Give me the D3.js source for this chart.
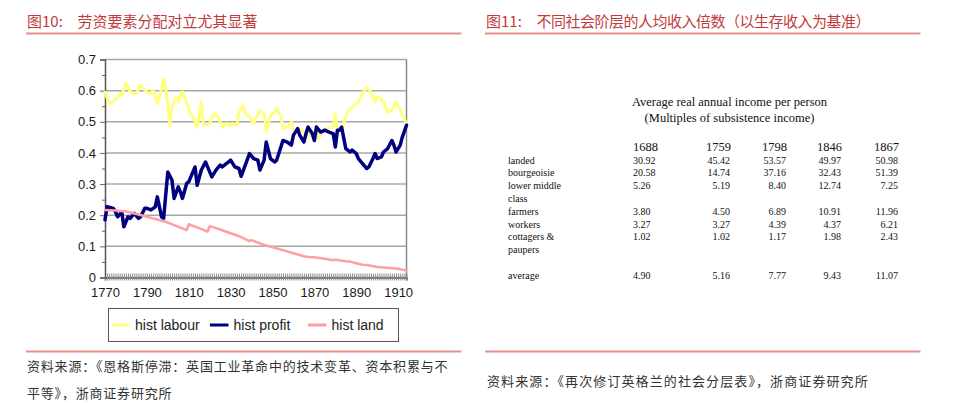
<!DOCTYPE html>
<html>
<head>
<meta charset="utf-8">
<script src="https://cdn.jsdelivr.net/npm/d3@7"></script>
<style>
  body { margin: 0; background: #fff; }
  svg { display: block; }
</style>
</head>
<body>
<svg id="chart" width="960" height="403"></svg>
<script>
// ---- data ----
const labour = [
  [1770,.595],[1772,.558],[1774,.565],[1776,.578],[1777,.59],[1778,.585],[1780,.624],[1782,.597],
  [1784,.59],[1785,.593],[1787,.617],[1789,.603],[1791,.59],[1793,.6],[1794,.585],[1795,.558],
  [1797,.605],[1798,.638],[1799,.61],[1801,.489],[1802,.547],[1804,.58],[1805,.564],[1807,.596],
  [1809,.56],[1811,.526],[1812,.516],[1814,.483],[1816,.564],[1817,.49],[1820,.494],[1822,.526],
  [1824,.516],[1826,.483],[1828,.494],[1830,.486],[1831,.494],[1833,.489],[1834,.531],[1836,.553],
  [1837,.526],[1839,.516],[1841,.494],[1842,.51],[1844,.537],[1846,.526],[1847,.467],[1849,.52],
  [1851,.531],[1852,.542],[1854,.516],[1855,.478],[1857,.483],[1859,.5],[1860,.478],[1862,.467],
  [1863,.478],[1865,.467],[1867,.451],[1869,.472],[1871,.467],[1872,.446],[1874,.472],[1876,.478],
  [1879,.483],[1880,.526],[1881,.472],[1883,.478],[1884,.494],[1886,.537],[1888,.547],[1890,.558],
  [1891,.563],[1893,.59],[1895,.611],[1897,.595],[1899,.563],[1900,.58],[1902,.574],[1903,.563],
  [1905,.531],[1907,.537],[1909,.563],[1911,.542],[1912,.52],[1914,.495]
];
const profit = [
  [1770,.185],[1771,.227],[1774,.222],[1775,.211],[1776,.195],[1778,.211],[1779,.163],[1781,.195],
  [1782,.19],[1784,.206],[1786,.19],[1787,.195],[1789,.222],[1790,.222],[1792,.217],[1794,.227],
  [1795,.259],[1797,.195],[1798,.19],[1800,.339],[1802,.312],[1803,.254],[1805,.291],[1806,.275],
  [1807,.254],[1809,.302],[1810,.307],[1813,.355],[1814,.296],[1816,.345],[1818,.371],[1819,.355],
  [1821,.323],[1823,.345],[1825,.361],[1826,.355],[1829,.371],[1830,.377],[1832,.355],[1834,.35],
  [1835,.325],[1837,.361],[1839,.398],[1841,.382],[1843,.377],[1844,.345],[1845,.361],[1846,.377],
  [1847,.435],[1849,.382],[1851,.371],[1852,.377],[1854,.419],[1855,.44],[1857,.435],[1859,.425],
  [1860,.457],[1862,.478],[1863,.457],[1865,.435],[1866,.462],[1867,.483],[1869,.462],[1870,.44],
  [1871,.483],[1873,.467],[1875,.473],[1877,.467],[1879,.462],[1880,.419],[1881,.473],[1882,.473],
  [1883,.483],[1885,.414],[1887,.403],[1888,.409],[1890,.398],[1891,.382],[1893,.366],[1895,.35],
  [1896,.355],[1898,.382],[1899,.398],[1900,.382],[1902,.387],[1903,.403],[1905,.414],[1907,.44],
  [1908,.425],[1909,.403],[1911,.425],[1912,.451],[1914,.489]
];
const land = [
  [1770,.217],[1775,.215],[1780,.212],[1785,.204],[1790,.195],[1795,.186],[1799,.179],[1803,.168],
  [1806,.16],[1809,.152],[1810,.171],[1814,.161],[1817,.153],[1819,.147],[1820,.165],[1825,.154],
  [1830,.142],[1835,.13],[1839,.117],[1840,.12],[1845,.107],[1850,.097],[1855,.088],[1860,.078],
  [1865,.068],[1867,.066],[1870,.065],[1875,.06],[1878,.056],[1880,.057],[1885,.052],[1887,.051],
  [1890,.046],[1893,.041],[1895,.04],[1900,.034],[1905,.031],[1910,.028],[1914,.022]
];
const seriesNames = ["hist labour", "hist profit", "hist land"];
const seriesColors = ["#ffff80", "#000080", "#ff9f9f"];
const xTickYears = [1770, 1790, 1810, 1830, 1850, 1870, 1890, 1910];
const yTickValues = [0, 0.1, 0.2, 0.3, 0.4, 0.5, 0.6, 0.7];

// table (figure 11)
const tableTitle = ["Average real annual income per person", "(Multiples of subsistence income)"];
const tableYears = ["1688", "1759", "1798", "1846", "1867"];
const classLabels = [["landed"], ["bourgeoisie"], ["lower middle", "class"], ["farmers"], ["workers"], ["cottagers &", "paupers"], ["average"]];
const incomes = [
  [30.92, 45.42, 53.57, 49.97, 50.98],
  [20.58, 14.74, 37.16, 32.43, 51.39],
  [5.26, 5.19, 8.40, 12.74, 7.25],
  [3.80, 4.50, 6.89, 10.91, 11.96],
  [3.27, 3.27, 4.39, 4.37, 6.21],
  [1.02, 1.02, 1.17, 1.98, 2.43],
  [4.90, 5.16, 7.77, 9.43, 11.07]
];

const titles = [["图10:", "劳资要素分配对立尤其显著"], ["图11:", "不同社会阶层的人均收入倍数（以生存收入为基准）"]];
const sources = [
  ["资料来源：《恩格斯停滞：英国工业革命中的技术变革、资本积累与不", "平等》，浙商证券研究所"],
  ["资料来源：《再次修订英格兰的社会分层表》，浙商证券研究所"]
];

// ---- drawing ----
const svg = d3.select("#chart");
svg.append("rect").attr("width", 960).attr("height", 403).attr("fill", "#fff");

const cjk = "'Noto Sans CJK SC', sans-serif";
const red = "#c23b3b";
const ruleColor = "#e39090";

// panel headers and footers
const panelX = [26, 485];
const titleSpacing = ["0px", "-0.5px"];
titles.forEach((t, i) => {
  svg.append("text").attr("x", panelX[i] + 1).attr("y", 20)
    .attr("dominant-baseline", "central")
    .style("font-family", cjk).style("font-size", "15px").attr("fill", red)
    .text(t[0]);
  svg.append("text").attr("x", panelX[i] + 51.5).attr("y", 20)
    .attr("dominant-baseline", "central")
    .style("font-family", cjk).style("font-size", "15px").style("letter-spacing", titleSpacing[i])
    .attr("fill", red)
    .text(t[1]);
  svg.append("line").attr("x1", panelX[i]).attr("x2", panelX[i] + 435.5)
    .attr("y1", 33.5).attr("y2", 33.5).attr("stroke", ruleColor).attr("stroke-width", 2);
  svg.append("line").attr("x1", panelX[i]).attr("x2", panelX[i] + 435.5)
    .attr("y1", 351.5).attr("y2", 351.5).attr("stroke", ruleColor).attr("stroke-width", 2);
});

sources[0].forEach((s, j) => {
  svg.append("text").attr("x", 27).attr("y", 365 + j * 27.5)
    .attr("dominant-baseline", "central")
    .style("font-family", cjk).style("font-size", "13px").style("letter-spacing", "0.8px")
    .attr("fill", "#333").text(s);
});
svg.append("text").attr("x", 487).attr("y", 380)
  .attr("dominant-baseline", "central")
  .style("font-family", cjk).style("font-size", "13px").style("letter-spacing", "1.1px")
  .attr("fill", "#333").text(sources[1][0]);

// ---- figure 10: line chart ----
const x = d3.scaleLinear().domain([1770, 1914]).range([105, 406.5]);
const y = d3.scaleLinear().domain([0, 0.7]).range([277.5, 59.5]);
const g = svg.append("g");

// grid
g.selectAll("line.grid")
  .data(yTickValues)
  .enter().append("line")
  .attr("class", "grid")
  .attr("x1", x.range()[0]).attr("x2", x.range()[1])
  .attr("y1", d => y(d)).attr("y2", d => y(d))
  .attr("stroke", "#a8a8a8").attr("stroke-width", 1.5);

// right frame
g.append("line").attr("x1", x.range()[1]).attr("x2", x.range()[1])
  .attr("y1", y(0.7)).attr("y2", y(0))
  .attr("stroke", "#8a8a8a").attr("stroke-width", 1.5);

// yearly tick marks on the x axis
const xMinor = g.append("g")
  .attr("transform", `translate(0,${y(0)})`)
  .call(d3.axisBottom(x).tickValues(d3.range(1770, 1915)).tickSize(3).tickFormat(""));
xMinor.select(".domain").attr("stroke", "#555").attr("stroke-width", 1.5);
xMinor.selectAll(".tick line").attr("y1", -4).attr("y2", 3).attr("stroke", "#8c8c8c");

const xAxis = g.append("g")
  .attr("transform", `translate(0,${y(0)})`)
  .call(d3.axisBottom(x).tickValues(xTickYears).tickSize(0).tickPadding(10).tickFormat(d3.format("d")));
xAxis.select(".domain").remove();
xAxis.selectAll("text").style("font-family", "'Liberation Sans', Arial, sans-serif")
  .style("font-size", "13px").attr("fill", "#1a1a1a");

// y axis with minor ticks
const yMinor = g.append("g")
  .attr("transform", `translate(${x.range()[0]},0)`)
  .call(d3.axisLeft(y).tickValues(d3.range(0.05, 0.7, 0.1)).tickSize(3).tickFormat(""));
yMinor.select(".domain").remove();
yMinor.selectAll(".tick line").attr("stroke", "#666");

const yAxis = g.append("g")
  .attr("transform", `translate(${x.range()[0]},0)`)
  .call(d3.axisLeft(y).tickValues(yTickValues).tickSize(5).tickPadding(4)
    .tickFormat(d => d === 0 ? "0" : d3.format(".1f")(d)));
yAxis.select(".domain").attr("stroke", "#555").attr("stroke-width", 1.5);
yAxis.selectAll(".tick line").attr("stroke", "#666");
yAxis.selectAll("text").style("font-family", "'Liberation Sans', Arial, sans-serif")
  .style("font-size", "13px").attr("fill", "#1a1a1a");

// series lines
const line = d3.line().x(d => x(d[0])).y(d => y(d[1]));
const widths = [3, 3.5, 2.5];
[labour, profit, land].forEach((data, i) => {
  g.append("path")
    .datum(data)
    .attr("fill", "none")
    .attr("stroke", seriesColors[i])
    .attr("stroke-width", widths[i])
    .attr("stroke-linejoin", "round")
    .attr("stroke-linecap", "round")
    .attr("d", line);
});

// legend
const legend = g.append("g");
legend.append("rect").attr("x", 108.5).attr("y", 308.5).attr("width", 290).attr("height", 33)
  .attr("fill", "#fff").attr("stroke", "#555").attr("stroke-width", 1);
const legendX = [111.5, 210, 308];
seriesNames.forEach((name, i) => {
  legend.append("line")
    .attr("x1", legendX[i]).attr("x2", legendX[i] + 18.5)
    .attr("y1", 325).attr("y2", 325)
    .attr("stroke", seriesColors[i]).attr("stroke-width", 3);
  legend.append("text")
    .attr("x", legendX[i] + 23.5).attr("y", 325)
    .attr("dominant-baseline", "central")
    .style("font-family", "'Liberation Sans', Arial, sans-serif").style("font-size", "14px")
    .attr("fill", "#222")
    .text(name);
});

// ---- figure 11: income table ----
const serif = "'Liberation Serif', 'Times New Roman', serif";
const tbl = svg.append("g").attr("fill", "#111").style("font-family", serif);

tableTitle.forEach((t, i) => {
  tbl.append("text").attr("x", 729.5).attr("y", 102 + i * 15.5)
    .attr("text-anchor", "middle").attr("dominant-baseline", "central")
    .style("font-size", "12.5px").text(t);
});

// column anchors: first column left-aligned, the rest right-aligned
const colX = d3.scaleOrdinal().domain(tableYears).range([633, 730, 786, 841, 898]);
const anchorOf = (i) => i === 0 ? "start" : "end";

tbl.selectAll("text.year")
  .data(tableYears)
  .enter().append("text")
  .attr("class", "year")
  .attr("x", d => colX(d) + (tableYears.indexOf(d) === 0 ? 0 : 1))
  .attr("y", 147)
  .attr("text-anchor", (d, i) => anchorOf(i))
  .attr("dominant-baseline", "central")
  .style("font-size", "12.5px")
  .text(d => d);

// rows: wrapped labels take extra lines, a blank line before the average
const lineH = 12.8;
let lineNo = 0;
classLabels.forEach((lab, r) => {
  if (r === classLabels.length - 1) lineNo += 1;
  const rowY = 160 + lineNo * lineH;
  lab.forEach((part, k) => {
    tbl.append("text").attr("x", 508).attr("y", rowY + k * lineH)
      .attr("dominant-baseline", "central").style("font-size", "10px").text(part);
  });
  tbl.selectAll(null)
    .data(incomes[r])
    .enter().append("text")
    .attr("x", (d, i) => colX(tableYears[i]))
    .attr("y", rowY)
    .attr("text-anchor", (d, i) => anchorOf(i))
    .attr("dominant-baseline", "central")
    .style("font-size", "10px")
    .text(d => d3.format(".2f")(d));
  lineNo += lab.length;
});
</script>
</body>
</html>
